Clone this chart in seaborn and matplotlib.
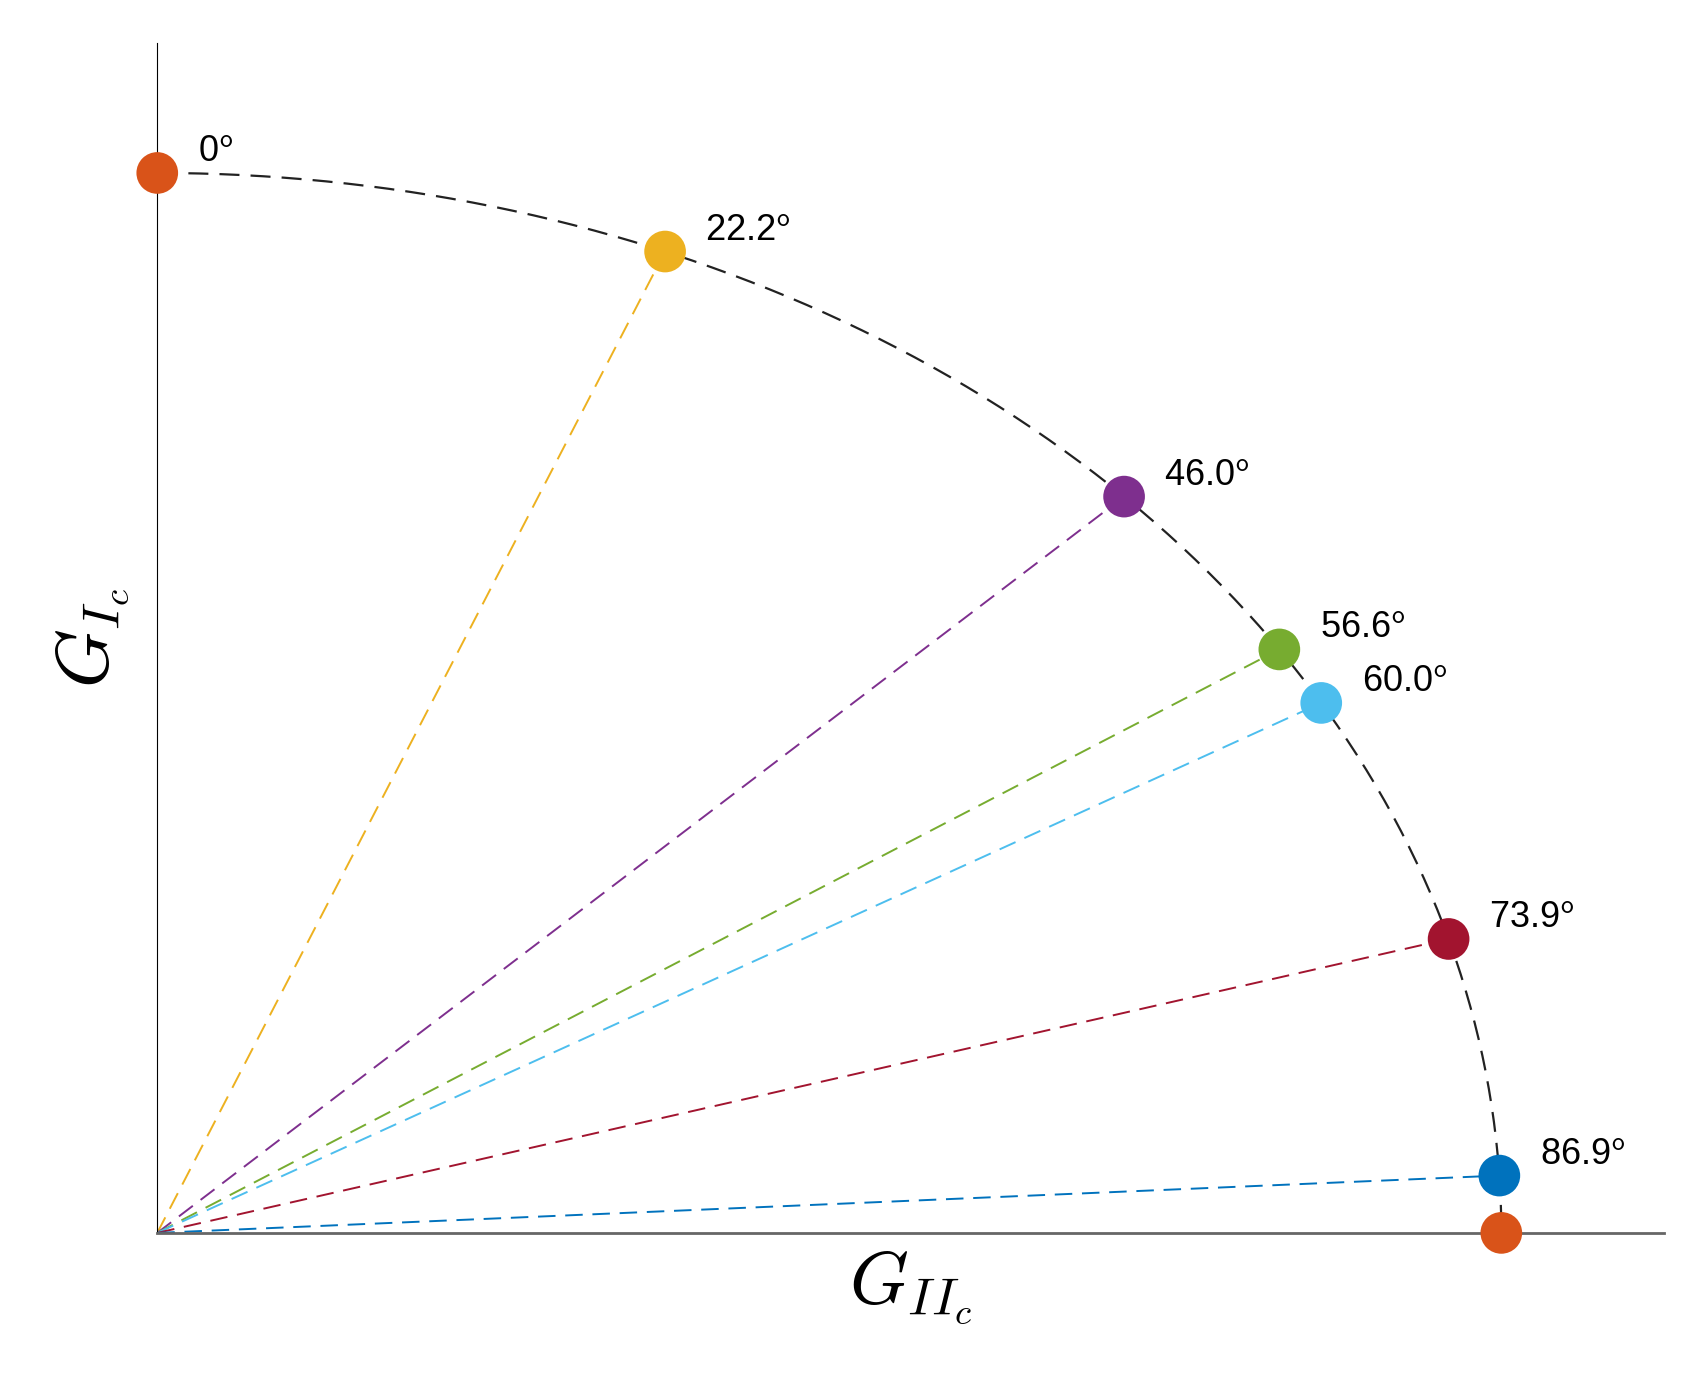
import numpy as np
import pandas as pd
import matplotlib.pyplot as plt
import seaborn as sns

sns.set_style('white')
plt.rcParams['mathtext.fontset'] = 'cm'

# mode mixity angles (deg) and MATLAB-style colours
angles = [0.0, 22.2, 46.0, 56.6, 60.0, 73.9, 86.9, 90.0]
labels = ['0', '22.2', '46.0', '56.6', '60.0', '73.9', '86.9', '']
colors = ['#D95319', '#EDB120', '#7E2F8E', '#77AC30', '#4DBEEE', '#A2142F', '#0072BD', '#D95319']
GIIc = 1.0    # horizontal semi-axis
GIc = 0.789   # vertical semi-axis

t = np.radians(angles)
df = pd.DataFrame({'x': GIIc * np.sin(t), 'y': GIc * np.cos(t), 'c': colors, 'lab': labels})

fig = plt.figure(figsize=(16.91, 13.76), dpi=100)
ax = fig.add_axes([0.093, 0.104, 0.891, 0.865])

# failure envelope
tt = np.linspace(0, np.pi / 2, 300)
ax.plot(GIIc * np.sin(tt), GIc * np.cos(tt), ls=(0, (9, 5)), color='#222222', lw=1.6, zorder=1)

# rays from origin
for _, r in df.iloc[1:-1].iterrows():
    ax.plot([0, r.x], [0, r.y], ls=(0, (9, 5)), color=r.c, lw=1.4, zorder=1)

sns.scatterplot(data=df, x='x', y='y', hue='c', palette={c: c for c in colors},
                s=900, edgecolor='none', legend=False, ax=ax, zorder=3, clip_on=False)

for _, r in df.iterrows():
    if r.lab:
        ax.text(r.x + 0.03, r.y + 0.003, r.lab + '$^\\mathsf{o}$', fontsize=26,
                family='Liberation Sans', color='black', va='bottom')

ax.set_xlim(0, 1.121)
ax.set_ylim(0, 0.886)
ax.set_xticks([])
ax.set_yticks([])
for s in ['top', 'right']:
    ax.spines[s].set_visible(False)
ax.spines['left'].set_color('black')
ax.spines['bottom'].set_color('#666666')
ax.spines['bottom'].set_linewidth(2)
ax.set_xlabel('$G_{II_c}$', fontsize=54, labelpad=12, color='black')
ax.set_ylabel('$G_{I_c}$', fontsize=54, labelpad=18, color='black')

fig.savefig('out.png')
